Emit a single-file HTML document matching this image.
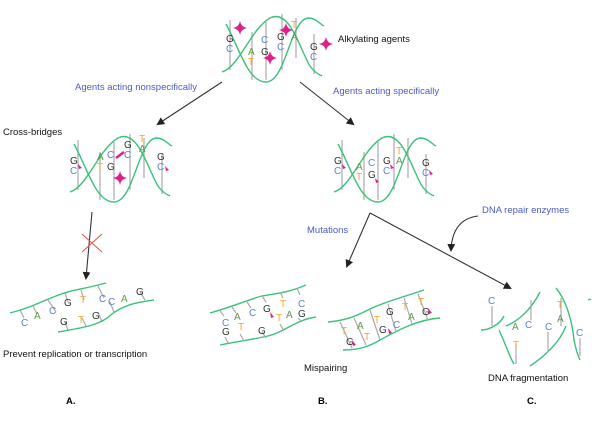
<!DOCTYPE html>
<html><head><style>
html,body{margin:0;padding:0;background:#fff;width:616px;height:423px;overflow:hidden}
svg{display:block}
text{font-family:"Liberation Sans",sans-serif}
.s{fill:none;stroke:#3cc17a;stroke-width:1.4}
.r{stroke:#aaa;stroke-width:1.2}
.b{font-size:10px}
.l{font-size:10px}
.G{fill:#333}.C{fill:#5a7fd6}.A{fill:#5e9a4a}.T{fill:#f5a623}
.lab{font-size:9.5px;fill:#111}
.blu{font-size:9.5px;fill:#4a5bc0}
.ar{stroke:#333;stroke-width:1.1;fill:none}
</style></head><body>
<svg width="616" height="423" viewBox="0 0 616 423">
<defs>
<marker id="m" markerWidth="8" markerHeight="8" refX="6" refY="4" orient="auto" markerUnits="userSpaceOnUse"><path d="M0,0 L8,4 L0,8 z" fill="#222"/></marker>
<g id="hx">
<line class="r" x1="10" y1="10" x2="10" y2="60"/><line class="r" x1="32" y1="22" x2="32" y2="70"/><line class="r" x1="46" y1="12" x2="46" y2="70"/><line class="r" x1="62" y1="4" x2="62" y2="60"/><line class="r" x1="76" y1="8" x2="76" y2="48"/><line class="r" x1="94" y1="24" x2="94" y2="64"/>
<path class="s" d="M6,14 C20,40 28,72 46,72 C66,72 70,10 88,8 C96,8 100,14 104,16"/>
<path class="s" d="M2,62 C20,56 30,20 50,8 C70,-2 80,40 90,56 C94,62 98,64 102,66"/>
</g>
<g id="st"><path d="M0,-7 Q1,-1 7,0 Q1,1 0,7 Q-1,1 -7,0 Q-1,-1 0,-7z" fill="#e0208a"/></g>
</defs>

<g transform="translate(220,10)">
<use href="#hx"/>
<text x="6" y="32" class="l G">G</text><text x="6" y="42" class="l C">C</text>
<text x="28" y="45" class="l A">A</text><text x="28" y="55" class="l T">T</text>
<text x="41" y="33" class="l C">C</text><text x="41" y="45" class="l G">G</text>
<text x="57" y="30" class="l G">G</text><text x="57" y="40" class="l C">C</text>
<text x="71" y="18" class="l T">T</text><text x="71" y="30" class="l A">A</text>
<text x="90" y="40" class="l G">G</text><text x="90" y="50" class="l C">C</text>
<use href="#st" x="20" y="18"/><use href="#st" x="66" y="20"/><use href="#st" x="50" y="48"/><use href="#st" x="106" y="34"/>
</g>
<text x="338" y="42" class="lab">Alkylating agents</text>

<line class="ar" x1="222" y1="82" x2="158" y2="124" marker-end="url(#m)"/>
<line class="ar" x1="300" y1="82" x2="353" y2="124" marker-end="url(#m)"/>
<text x="75" y="90" class="blu">Agents acting nonspecifically</text>
<text x="333" y="94" class="blu">Agents acting specifically</text>

<text x="3" y="135" class="lab">Cross-bridges</text>
<g transform="translate(68,130)">
<use href="#hx"/>
<text x="2" y="34" class="l G">G</text><text x="2" y="44" class="l C">C</text>
<text x="29" y="30" class="l A">A</text><text x="29" y="40" class="l T">T</text>
<text x="39" y="28" class="l C">C</text><text x="39" y="40" class="l G">G</text>
<text x="56" y="18" class="l G">G</text><text x="56" y="28" class="l C">C</text>
<text x="71" y="12" class="l T">T</text><text x="71" y="22" class="l A">A</text>
<text x="89" y="30" class="l G">G</text><text x="89" y="40" class="l C">C</text>
<line x1="48" y1="28" x2="56" y2="22" stroke="#e0208a" stroke-width="2.5"/>
<use href="#st" x="52" y="48"/>
<path d="M10,34 l4,4 l-3,1z M97,36 l4,4 l-3,1z" fill="#e0208a"/>
</g>

<g transform="translate(332,130)">
<use href="#hx"/>
<text x="2" y="34" class="l G">G</text><text x="2" y="44" class="l C">C</text>
<text x="24" y="40" class="l A">A</text><text x="24" y="50" class="l T">T</text>
<text x="36" y="36" class="l C">C</text><text x="36" y="48" class="l G">G</text>
<text x="51" y="34" class="l G">G</text><text x="51" y="44" class="l C">C</text>
<text x="64" y="24" class="l T">T</text><text x="64" y="34" class="l A">A</text>
<text x="90" y="36" class="l G">G</text><text x="90" y="46" class="l C">C</text>
<path d="M10,34 l4,4 l-3,1z M43,48 l4,4 l-3,1z M58,34 l4,4 l-3,1z M97,40 l4,4 l-3,1z" fill="#e0208a"/>
</g>

<line class="ar" x1="92" y1="212" x2="86" y2="278" marker-end="url(#m)"/>
<path d="M82,234 L102,252 M102,234 L82,252" stroke="#e8504a" stroke-width="1"/>

<g>
<line class="r" x1="20" y1="310" x2="24" y2="318"/><line class="r" x1="33" y1="306" x2="37" y2="314"/><line class="r" x1="48" y1="300" x2="56" y2="312"/><line class="r" x1="65" y1="293" x2="68" y2="302"/><line class="r" x1="81" y1="290" x2="84" y2="300"/><line class="r" x1="98" y1="286" x2="104" y2="298"/><line class="r" x1="110" y1="302" x2="114" y2="312"/><line class="r" x1="140" y1="292" x2="145" y2="300"/><line class="r" x1="65" y1="322" x2="68" y2="330"/><line class="r" x1="82" y1="318" x2="86" y2="326"/><line class="r" x1="98" y1="312" x2="102" y2="322"/>
<path class="s" d="M10,313 C30,308 40,302 56,296 C70,290 80,290 106,283"/>
<path class="s" d="M58,332 C80,328 100,326 112,314 C125,304 140,302 154,300"/>
<text x="21" y="326" class="b C">C</text><text x="34" y="319" class="b A">A</text><text x="49" y="314" class="b C">C</text><text x="64" y="306" class="b G">G</text><text x="80" y="303" class="b T">T</text><text x="99" y="302" class="b C">C</text><text x="108" y="305" class="b C">C</text><text x="121" y="302" class="b A">A</text><text x="136" y="295" class="b G">G</text><text x="60" y="325" class="b G">G</text><text x="78" y="323" class="b T">T</text><text x="92" y="319" class="b G">G</text>
</g>
<text x="3" y="357" class="lab">Prevent replication or transcription</text>

<g>
<path class="s" d="M210,313 C235,306 250,299 262,296 C280,293 290,292 306,285"/>
<path class="s" d="M220,345 C240,341 250,340 268,336 C285,332 295,320 316,317"/>
<line class="r" x1="220" y1="311" x2="224" y2="316"/><line class="r" x1="232" y1="307" x2="236" y2="313"/><line class="r" x1="247" y1="302" x2="251" y2="308"/><line class="r" x1="262" y1="296" x2="266" y2="302"/><line class="r" x1="280" y1="292" x2="283" y2="298"/><line class="r" x1="297" y1="288" x2="300" y2="295"/>
<line class="r" x1="225" y1="337" x2="228" y2="343"/><line class="r" x1="240" y1="334" x2="244" y2="341"/><line class="r" x1="262" y1="332" x2="266" y2="338"/><line class="r" x1="280" y1="324" x2="284" y2="331"/><line class="r" x1="298" y1="318" x2="302" y2="322"/>
<text x="222" y="326" class="b C">C</text><text x="222" y="335" class="b G">G</text><text x="234" y="320" class="b A">A</text><text x="238" y="330" class="b T">T</text><text x="249" y="316" class="b C">C</text><text x="258" y="334" class="b G">G</text><text x="263" y="312" class="b G">G</text><text x="276" y="321" class="b T">T</text><text x="280" y="307" class="b T">T</text><text x="286" y="318" class="b A">A</text><text x="298" y="307" class="b C">C</text><text x="298" y="317" class="b G">G</text>
<path d="M270,312 l4,5 l-3,1z" fill="#e0208a"/>
</g>
<g>
<path class="s" d="M328,322 C350,320 360,314 372,308 C385,302 400,298 424,290"/>
<path class="s" d="M343,350 C360,350 370,346 380,340 C395,332 415,320 440,318"/>
<line class="r" x1="340" y1="322" x2="352" y2="348"/><line class="r" x1="354" y1="318" x2="366" y2="345"/><line class="r" x1="370" y1="310" x2="380" y2="340"/><line class="r" x1="388" y1="304" x2="396" y2="332"/><line class="r" x1="404" y1="298" x2="412" y2="324"/><line class="r" x1="418" y1="294" x2="428" y2="320"/>
<text x="341" y="334" class="b T">T</text><text x="346" y="345" class="b G">G</text><text x="357" y="329" class="b A">A</text><text x="364" y="340" class="b T">T</text><text x="374" y="323" class="b T">T</text><text x="379" y="333" class="b G">G</text><text x="386" y="315" class="b G">G</text><text x="393" y="328" class="b C">C</text><text x="402" y="310" class="b T">T</text><text x="408" y="320" class="b A">A</text><text x="418" y="305" class="b T">T</text><text x="422" y="315" class="b G">G</text>
<path d="M352,340 l4,5 l-3,1z M388,328 l4,5 l-3,1z M428,308 l4,5 l-3,1z" fill="#e0208a"/>
</g>
<text x="304" y="371" class="lab">Mispairing</text>

<line class="ar" x1="370" y1="213" x2="347" y2="266" marker-end="url(#m)"/>
<line class="ar" x1="370" y1="213" x2="510" y2="288" marker-end="url(#m)"/>
<text x="307" y="233" class="blu">Mutations</text>
<text x="482" y="213" class="blu">DNA repair enzymes</text>
<path class="ar" d="M478,216 C462,218 452,228 451,250" marker-end="url(#m)"/>

<g>
<path class="s" d="M481,330 C490,330 500,324 504,316"/>
<path class="s" d="M506,326 C516,322 530,312 540,292"/>
<path class="s" d="M499,330 C506,345 510,358 514,364"/>
<path class="s" d="M530,366 C545,356 560,342 566,326"/>
<path class="s" d="M556,288 C566,300 572,320 574,340 C576,350 578,356 580,360"/>
<path class="s" d="M588,300 l3,-1"/>
<line class="r" x1="492" y1="306" x2="492" y2="326"/><line class="r" x1="531" y1="300" x2="531" y2="320"/><line class="r" x1="516" y1="344" x2="516" y2="364"/><line class="r" x1="548" y1="332" x2="548" y2="352"/><line class="r" x1="561" y1="298" x2="561" y2="326"/><line class="r" x1="580" y1="338" x2="580" y2="356"/>
<text x="488" y="304" class="b C">C</text><text x="512" y="330" class="b A">A</text><text x="525" y="328" class="b C">C</text><text x="513" y="348" class="b T">T</text><text x="545" y="330" class="b C">C</text><text x="557" y="308" class="b T">T</text><text x="557" y="322" class="b A">A</text><text x="576" y="336" class="b C">C</text>
</g>
<text x="488" y="381" class="lab">DNA fragmentation</text>

<text x="66" y="404" style="font-size:9.5px;font-weight:bold">A.</text>
<text x="318" y="404" style="font-size:9.5px;font-weight:bold">B.</text>
<text x="527" y="404" style="font-size:9.5px;font-weight:bold">C.</text>
</svg>
</body></html>
